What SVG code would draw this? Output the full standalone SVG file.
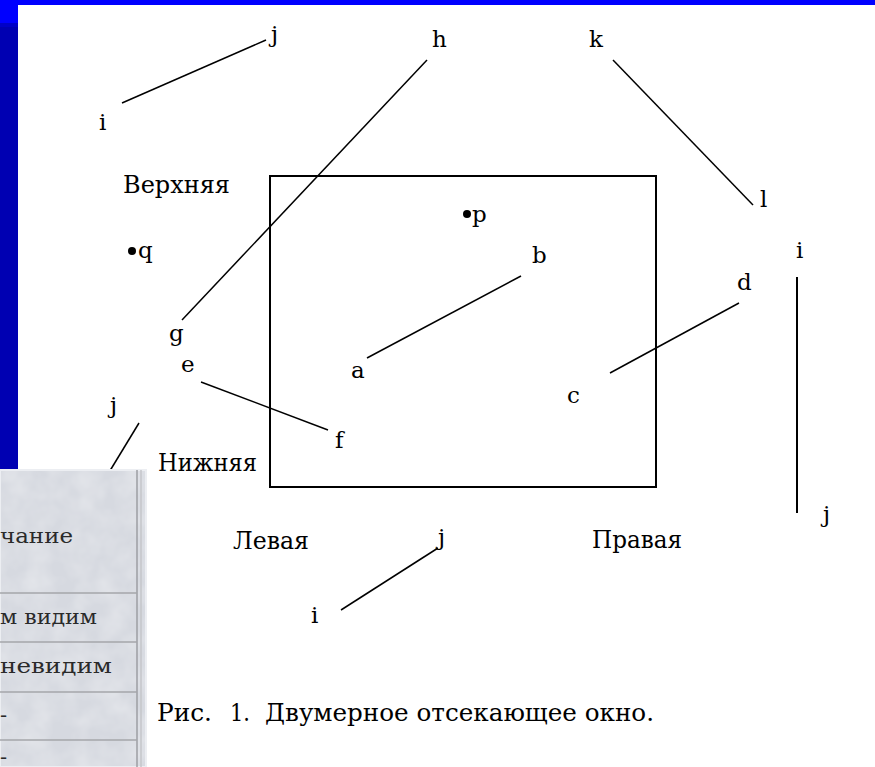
<svg xmlns="http://www.w3.org/2000/svg" width="875" height="767" viewBox="0 0 875 767">
<style>
.t{font-family:"DejaVu Serif","Liberation Serif",serif;font-size:23px;fill:#000}
.w{font-family:"DejaVu Serif","Liberation Serif",serif;font-size:24px;fill:#000}
.tb{font-family:"DejaVu Serif","Liberation Serif",serif;font-size:21px;fill:#2a2a2a}
.ln{stroke:#000;stroke-width:1.5;fill:none}
.sep{stroke:#a4a6aa;stroke-width:1.5}
</style>
<defs>
<filter id="marble" x="0" y="0" width="100%" height="100%">
<feTurbulence type="fractalNoise" baseFrequency="0.04" numOctaves="3" seed="4" result="n"/>
<feColorMatrix in="n" type="matrix" values="0 0 0 0 1  0 0 0 0 1  0 0 0 0 1  0.5 0 0 0 -0.15"/>
</filter>
</defs>
<rect x="0" y="0" width="875" height="767" fill="#fff"/>
<g id="frame">
<rect x="0" y="0" width="875" height="5" fill="#0000ff"/>
<rect x="0" y="0" width="18" height="470" fill="#0000b2"/>
<rect x="0" y="0" width="18" height="23" fill="#0000ff"/>
<rect x="0" y="23" width="18" height="4" fill="#0000c8"/>
</g>
<g id="window">
<rect x="270" y="176" width="386" height="311" fill="none" stroke="#000" stroke-width="2"/>
</g>
<g id="connectors">
<line class="ln" x1="122" y1="103" x2="266" y2="40"/>
<line class="ln" x1="427" y1="60" x2="182" y2="320"/>
<line class="ln" x1="613" y1="60" x2="753" y2="205"/>
<line class="ln" x1="367" y1="358" x2="521" y2="276"/>
<line class="ln" x1="610" y1="373" x2="739" y2="303"/>
<line class="ln" x1="201" y1="382" x2="328" y2="430"/>
<line class="ln" x1="139" y1="423" x2="108" y2="474"/>
<line class="ln" x1="341" y1="610" x2="438" y2="548"/>
<line x1="797" y1="277" x2="797" y2="513" stroke="#000" stroke-width="2"/>
</g>
<g id="node-p"><circle cx="467" cy="214" r="4"/><text class="t" x="472" y="222">p</text></g>
<g id="node-q"><circle cx="132" cy="251" r="4"/><text class="t" x="138" y="258">q</text></g>
<g id="node-i1"><text class="t" x="99" y="130">i</text></g>
<g id="node-j1"><text class="t" x="271" y="42">j</text></g>
<g id="node-h"><text class="t" x="432" y="47">h</text></g>
<g id="node-k"><text class="t" x="589" y="47">k</text></g>
<g id="node-l"><text class="t" x="760" y="207">l</text></g>
<g id="node-i2"><text class="t" x="796" y="258">i</text></g>
<g id="node-j2"><text class="t" x="823" y="522">j</text></g>
<g id="node-b"><text class="t" x="532" y="263">b</text></g>
<g id="node-d"><text class="t" x="737" y="290">d</text></g>
<g id="node-a"><text class="t" x="351" y="378">a</text></g>
<g id="node-c"><text class="t" x="567" y="403">c</text></g>
<g id="node-g"><text class="t" x="169" y="341">g</text></g>
<g id="node-e"><text class="t" x="181" y="372">e</text></g>
<g id="node-f"><text class="t" x="335" y="448">f</text></g>
<g id="node-j3"><text class="t" x="110" y="413">j</text></g>
<g id="node-j4"><text class="t" x="438" y="545">j</text></g>
<g id="node-i3"><text class="t" x="311" y="623">i</text></g>
<g id="labels">
<text class="w" x="123" y="193" textLength="107" lengthAdjust="spacingAndGlyphs">Верхняя</text>
<text class="w" x="158" y="471" textLength="99" lengthAdjust="spacingAndGlyphs">Нижняя</text>
<text class="w" x="233" y="549" textLength="76" lengthAdjust="spacingAndGlyphs">Левая</text>
<text class="w" x="592" y="548" textLength="90" lengthAdjust="spacingAndGlyphs">Правая</text>
<text class="w" x="157" y="721" textLength="55" lengthAdjust="spacingAndGlyphs">Рис.</text>
<text class="w" x="230" y="721" textLength="20" lengthAdjust="spacingAndGlyphs">1.</text>
<text class="w" x="265" y="721" textLength="389" lengthAdjust="spacingAndGlyphs">Двумерное отсекающее окно.</text>
</g>
<g id="table">
<rect x="0" y="470" width="146" height="297" fill="#d6d9e0"/>
<rect x="0" y="470" width="146" height="297" filter="url(#marble)"/>
<rect x="0" y="470" width="146" height="297" fill="none" stroke="#eceef2" stroke-width="2"/>
<line x1="137" y1="470" x2="137" y2="767" stroke="#9c9ea3" stroke-width="1.5"/>
<line x1="141" y1="470" x2="141" y2="767" stroke="#c4c6ca" stroke-width="1.5"/>
<line class="sep" x1="0" y1="593" x2="137" y2="593"/>
<line class="sep" x1="0" y1="642" x2="137" y2="642"/>
<line class="sep" x1="0" y1="692" x2="137" y2="692"/>
<line class="sep" x1="0" y1="740" x2="137" y2="740"/>
<text class="tb" x="0" y="543" textLength="73" lengthAdjust="spacingAndGlyphs">чание</text>
<text class="tb" x="0" y="624" textLength="97" lengthAdjust="spacingAndGlyphs">м видим</text>
<text class="tb" x="0" y="673" textLength="112" lengthAdjust="spacingAndGlyphs">невидим</text>
<text class="tb" x="0" y="722">-</text>
<text class="tb" x="0" y="764">-</text>
</g>
</svg>
